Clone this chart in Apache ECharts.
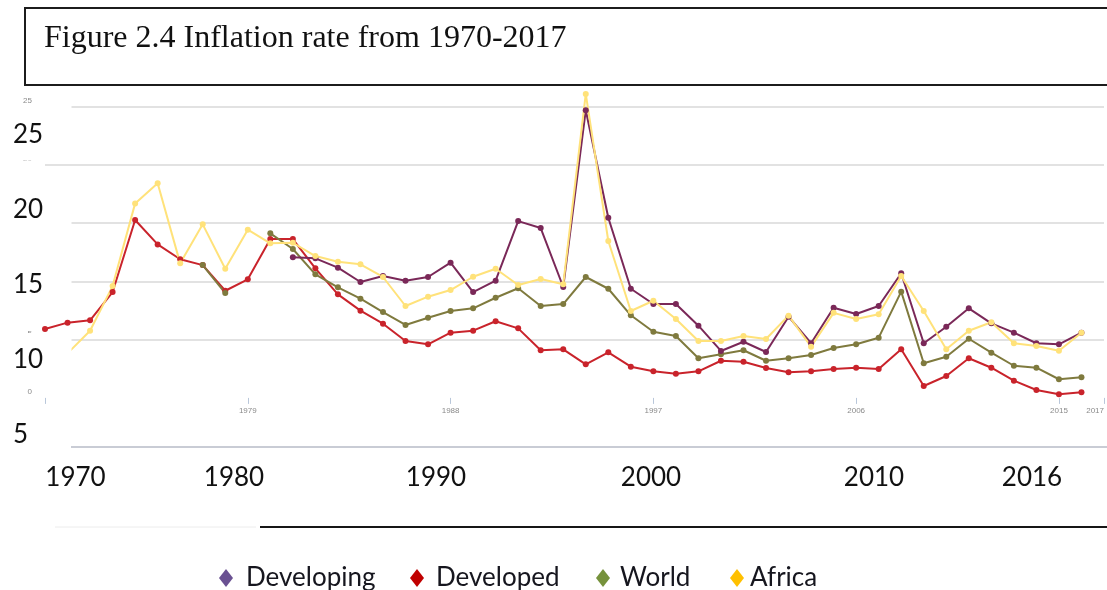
<!DOCTYPE html>
<html>
<head>
<meta charset="utf-8">
<script src="https://cdn.jsdelivr.net/npm/echarts@6/dist/echarts.min.js"></script>
<style>
  html, body { margin: 0; padding: 0; background: #ffffff; }
  #chart { width: 1107px; height: 590px; }
</style>
</head>
<body>
<div id="chart"></div>
<script>
// Inflation rate (%) by group of economies, 1970-2016
const title = 'Figure 2.4 Inflation rate from 1970-2017';

const years = [
  1970, 1971, 1972, 1973, 1974, 1975, 1976, 1977, 1978, 1979,
  1980, 1981, 1982, 1983, 1984, 1985, 1986, 1987, 1988, 1989,
  1990, 1991, 1992, 1993, 1994, 1995, 1996, 1997, 1998, 1999,
  2000, 2001, 2002, 2003, 2004, 2005, 2006, 2007, 2008, 2009,
  2010, 2011, 2012, 2013, 2014, 2015, 2016, 2017
];

const developing = [
  null, null, null, null, null, null, null, null, null, null,
  null, 12.07, 11.98, 11.18, 9.95, 10.46, 10.06, 10.38, 11.61, 9.09,
  10.06, 15.18, 14.58, 9.52, 24.7, 15.47, 9.37, 8.06, 8.06, 6.2,
  4.03, 4.82, 3.94, 6.97, 4.69, 7.74, 7.2, 7.89, 10.7, 4.69,
  6.11, 7.69, 6.4, 5.6, 4.69, 4.6, 5.6
];

const developed = [
  5.91, 6.46, 6.66, 9.09, 15.27, 13.18, 11.9, 11.4, 9.2, 10.18,
  13.64, 13.64, 11.12, 8.89, 7.49, 6.37, 4.88, 4.6, 5.6, 5.77,
  6.58, 5.97, 4.09, 4.17, 2.88, 3.91, 2.68, 2.28, 2.08, 2.28,
  3.19, 3.11, 2.57, 2.2, 2.28, 2.48, 2.59, 2.48, 4.17, 1.02,
  1.88, 3.4, 2.59, 1.48, 0.68, 0.31, 0.48
];

const world = [
  null, null, null, null, null, null, null, 11.4, 9.0, null,
  14.13, 12.78, 10.61, 9.49, 8.52, 7.37, 6.26, 6.88, 7.46, 7.69,
  8.6, 9.41, 7.89, 8.06, 10.38, 9.37, 7.09, 5.68, 5.31, 3.4,
  3.74, 4.09, 3.19, 3.4, 3.68, 4.28, 4.6, 5.17, 9.12, 2.97,
  3.54, 5.08, 3.88, 2.76, 2.59, 1.6, 1.77
];

const africa = [
  null, 3.82, 5.77, 9.6, 16.7, 18.42, 11.55, 14.9, 11.09, 14.44,
  13.27, 13.32, 12.18, 11.69, 11.47, 10.38, 7.89, 8.69, 9.26, 10.4,
  11.09, 9.69, 10.21, 9.75, 26.1, 13.47, 7.46, 8.34, 6.77, 4.88,
  4.88, 5.31, 5.06, 7.06, 4.4, 7.3, 6.77, 7.18, 10.46, 7.46,
  4.17, 5.77, 6.49, 4.69, 4.46, 4.05, 5.6
];

const seriesNames = ['Developing', 'Developed', 'World', 'Africa'];

// large printed scale labels laid over the plot
const bigYLabels = ['25', '20', '15', '10', '5'];
const bigXLabels = ['1970', '1980', '1990', '2000', '2010', '2016'];

// ---- presentation ----
const lineColors = {
  Developing: '#7a2858',
  Developed: '#c9232b',
  World: '#7f7a3e',
  Africa: '#ffe27a'
};
const legendColors = {
  Developing: '#6a5192',
  Developed: '#c00000',
  World: '#76923c',
  Africa: '#ffc000'
};
const valuesByName = {
  Developing: developing,
  Developed: developed,
  World: world,
  Africa: africa
};

const bigYPos = [[28, 135], [28, 210], [28, 284.5], [28, 360], [20.5, 435]];
const bigXPos = [75.5, 234, 436, 651, 874, 1032];
const bigFont = 'Lato, "Open Sans", sans-serif';

function lineSeries(name) {
  return {
    name: name,
    type: 'line',
    data: valuesByName[name].map(v => (v === null ? '-' : v)),
    symbol: 'circle',
    symbolSize: 6,
    showSymbol: true,
    showAllSymbol: true,
    connectNulls: false,
    clip: false,
    lineStyle: { width: 2, color: lineColors[name] },
    itemStyle: { color: lineColors[name] },
    emphasis: { disabled: true },
    animation: false
  };
}

const tickIndex = (i) => i % 9 === 0 || i === years.length - 1;

const graphics = [];

// title frame and caption
graphics.push({
  type: 'rect', z: 100,
  shape: { x: 25, y: 8, width: 1110, height: 77 },
  style: { fill: 'none', stroke: '#1c1c1c', lineWidth: 2 }
});
graphics.push({
  type: 'text', z: 101, x: 44, y: 39,
  style: {
    text: title, fill: '#111111',
    fontFamily: '"Liberation Serif", "Times New Roman", serif', fontSize: 32,
    align: 'left', verticalAlign: 'middle'
  }
});

// white panels behind the large scale numbers
[[104, 56.5], [167, 151], [333, 54]].forEach(([y, h]) => {
  graphics.push({
    type: 'rect', z: 100,
    shape: { x: 0, y: y, width: 71.5, height: h },
    style: { fill: '#ffffff' }
  });
});

bigYLabels.forEach((t, i) => {
  graphics.push({
    type: 'text', z: 101, x: bigYPos[i][0], y: bigYPos[i][1],
    style: {
      text: t, fill: '#111111', fontFamily: bigFont, fontSize: 26,
      align: 'center', verticalAlign: 'middle'
    }
  });
});

bigXLabels.forEach((t, i) => {
  graphics.push({
    type: 'text', z: 101, x: bigXPos[i], y: 477.5,
    style: {
      text: t, fill: '#111111', fontFamily: bigFont, fontSize: 26,
      align: 'center', verticalAlign: 'middle'
    }
  });
});

// rules beneath the plot
graphics.push({
  type: 'line', z: 100,
  shape: { x1: 71, y1: 447, x2: 1107, y2: 447 },
  style: { stroke: '#c9ccd5', lineWidth: 2 }
});
graphics.push({
  type: 'line', z: 100,
  shape: { x1: 260, y1: 527, x2: 1107, y2: 527 },
  style: { stroke: '#161616', lineWidth: 2 }
});
graphics.push({
  type: 'line', z: 100,
  shape: { x1: 55, y1: 527, x2: 256, y2: 527 },
  style: { stroke: '#ececec', lineWidth: 1 }
});

// one legend per entry so each sits at its own place
const legendLeft = { Developing: 214, Developed: 405, World: 591, Africa: 725 };
const legendPad = { Developing: 8, Developed: 7, World: 5, Africa: 1 };
const legends = seriesNames.map(name => ({
  show: true,
  left: legendLeft[name],
  top: 560,
  orient: 'horizontal',
  selectedMode: false,
  itemWidth: 14,
  itemHeight: 18,
  icon: 'diamond',
  data: [{ name: name, icon: 'diamond', itemStyle: { color: legendColors[name], borderWidth: 0 } }],
  textStyle: {
    fontFamily: bigFont, fontSize: 26, color: '#16161e',
    padding: [0, 0, 0, legendPad[name]]
  }
}));

const chart = echarts.init(document.getElementById('chart'), null, { renderer: 'canvas' });
chart.setOption({
  animation: false,
  backgroundColor: '#ffffff',
  grid: { left: 45, right: 2, top: 106.7, bottom: 192.1, containLabel: false },
  legend: legends,
  xAxis: {
    type: 'category',
    data: years.map(String),
    boundaryGap: false,
    axisLine: { show: false },
    axisTick: {
      show: true, length: 6, interval: (i) => tickIndex(i),
      lineStyle: { color: '#b9c7da', width: 1 }
    },
    axisLabel: {
      show: true, margin: 9, fontSize: 8, color: '#8a8a8a',
      fontFamily: 'Arial, "Liberation Sans", sans-serif',
      interval: (i) => tickIndex(i) && i !== 0,
      alignMaxLabel: 'right'
    },
    splitLine: { show: false }
  },
  yAxis: {
    type: 'value',
    min: 0, max: 25, interval: 5,
    axisLine: { show: false },
    axisTick: { show: false },
    axisLabel: {
      margin: 13, fontSize: 8, color: '#8a8a8a',
      fontFamily: 'Arial, "Liberation Sans", sans-serif',
      verticalAlign: 'bottom', padding: [0, 0, 2, 0]
    },
    splitLine: {
      show: true,
      lineStyle: {
        color: ['rgba(0,0,0,0)', '#d9d9d9', '#d9d9d9', '#d9d9d9', '#d9d9d9', '#d9d9d9'],
        width: 1.5
      }
    }
  },
  series: [
    lineSeries('Developed'),
    lineSeries('World'),
    lineSeries('Developing'),
    lineSeries('Africa')
  ],
  graphic: { elements: graphics }
});
</script>
</body>
</html>
